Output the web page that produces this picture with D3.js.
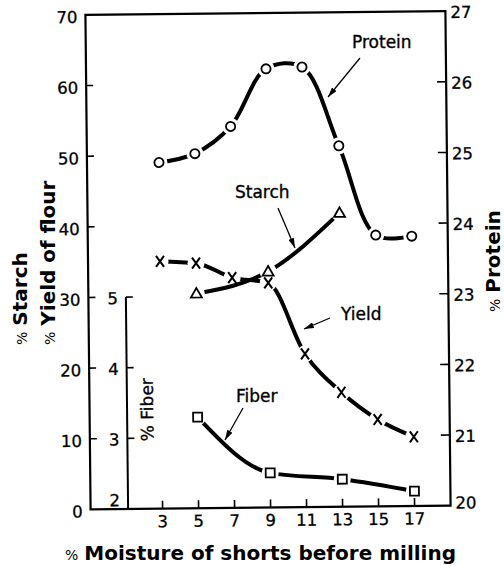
<!DOCTYPE html>
<html>
<head>
<meta charset="utf-8">
<script src="https://cdn.jsdelivr.net/npm/d3@7"></script>
<style>
html, body { margin: 0; padding: 0; background: #fff; }
svg { display: block; font-family: "DejaVu Sans", sans-serif; }
.lab { stroke: #000; stroke-width: 0.3px; }
</style>
</head>
<body>
<svg id="chart" width="504" height="566"></svg>
<script>
'use strict';

// moisture of shorts (x)
var moisture = [3, 5, 7, 9, 11, 13, 15, 17];
// % protein, right axis
var protein = [24.90, 25.02, 25.40, 26.21, 26.23, 25.11, 23.84, 23.82];
// % yield of flour, left axis
var yieldFlour = [35.0, 34.7, 32.6, 31.8, 21.7, 16.2, 12.3, 9.8];
// % starch, left axis
var starchMoisture = [5, 9, 13];
var starch = [30.4, 33.4, 41.6];
// % fiber, inner axis
var fiberMoisture = [5, 9, 13, 17];
var fiber = [3.29, 2.49, 2.39, 2.21];

var leftTicks = [0, 10, 20, 30, 40, 50, 60, 70];
var rightTicks = [20, 21, 22, 23, 24, 25, 26, 27];
var fiberTicks = [2, 3, 4, 5];
var xTicks = [3, 5, 7, 9, 11, 13, 15, 17];

var svg = d3.select('#chart');

var x = d3.scaleLinear().domain([-1, 19]).range([88, 448]);
var yLeft = d3.scaleLinear().domain([0, 70]).range([507.5, 13]);
var yRight = d3.scaleLinear().domain([20, 27]).range([507.5, 13]);
var yFiber = d3.scaleLinear().domain([2, 5]).range([507.5, yLeft(30)]);

var FIBER_X = 125.5;
var TICK_FONT = '16.5px';

// the scan is a little tilted
var g = svg.append('g').attr('transform', 'rotate(-0.6, 270, 260)');
var defs = svg.append('defs');

defs.append('marker')
    .attr('id', 'arrow')
    .attr('markerUnits', 'userSpaceOnUse')
    .attr('markerWidth', 10)
    .attr('markerHeight', 6)
    .attr('refX', 10)
    .attr('refY', 3)
    .attr('orient', 'auto')
    .append('path')
    .attr('d', 'M0,0 L10,3 L0,6 Z')
    .attr('fill', '#000');

/***** frame *****/
var x0 = x.range()[0], x1 = x.range()[1];
var yb = yLeft(0), yt = yLeft(70);

g.append('path')
    .attr('d', 'M' + x0 + ',' + yt + 'L' + x1 + ',' + yt + 'L' + x1 + ',' + yb + 'L' + x0 + ',' + yb + 'Z')
    .attr('fill', 'none')
    .attr('stroke', '#000')
    .attr('stroke-width', 2.2);

// left axis
g.selectAll('.ltick').data(leftTicks.slice(1, -1)).enter()
    .append('line')
    .attr('x1', x0).attr('x2', x0 + 7)
    .attr('y1', function(d) { return yLeft(d); })
    .attr('y2', function(d) { return yLeft(d); })
    .attr('stroke', '#000').attr('stroke-width', 1.6);

g.selectAll('.llab').data(leftTicks).enter()
    .append('text')
    .attr('class', 'lab')
    .attr('x', x0 - 8)
    .attr('y', function(d) { return yLeft(d) + 8; })
    .attr('text-anchor', 'end')
    .style('font-size', TICK_FONT)
    .text(function(d) { return d; });

// right axis
g.selectAll('.rtick').data(rightTicks.slice(1, -1)).enter()
    .append('line')
    .attr('x1', x1).attr('x2', x1 - 9)
    .attr('y1', function(d) { return yRight(d); })
    .attr('y2', function(d) { return yRight(d); })
    .attr('stroke', '#000').attr('stroke-width', 1.6);

g.selectAll('.rlab').data(rightTicks).enter()
    .append('text')
    .attr('class', 'lab')
    .attr('x', x1 + 5)
    .attr('y', function(d) { return yRight(d) + (d === 20 ? 3 : 7); })
    .style('font-size', TICK_FONT)
    .text(function(d) { return d; });

// bottom axis
g.selectAll('.xtick').data(xTicks).enter()
    .append('line')
    .attr('x1', function(d) { return x(d); })
    .attr('x2', function(d) { return x(d); })
    .attr('y1', yb).attr('y2', yb - 8)
    .attr('stroke', '#000').attr('stroke-width', 1.6);

g.selectAll('.xlab').data(xTicks).enter()
    .append('text')
    .attr('class', 'lab')
    .attr('x', function(d) { return x(d); })
    .attr('y', yb + 18.5)
    .attr('text-anchor', 'middle')
    .style('font-size', TICK_FONT)
    .text(function(d) { return d; });

// fiber axis
g.append('line')
    .attr('x1', FIBER_X).attr('x2', FIBER_X)
    .attr('y1', yFiber(2)).attr('y2', yFiber(5))
    .attr('stroke', '#000').attr('stroke-width', 2);

g.selectAll('.ftick').data(fiberTicks.slice(1)).enter()
    .append('line')
    .attr('x1', FIBER_X).attr('x2', FIBER_X + 7)
    .attr('y1', function(d) { return yFiber(d); })
    .attr('y2', function(d) { return yFiber(d); })
    .attr('stroke', '#000').attr('stroke-width', 1.6);

g.selectAll('.flab').data(fiberTicks).enter()
    .append('text')
    .attr('class', 'lab')
    .attr('x', FIBER_X - 8)
    .attr('y', function(d) { return yFiber(d) + (d === 2 ? -3 : 7); })
    .attr('text-anchor', 'end')
    .style('font-size', TICK_FONT)
    .text(function(d) { return d; });

g.append('text')
    .attr('class', 'lab')
    .attr('transform', 'translate(' + (FIBER_X + 26) + ',440) rotate(-90)')
    .style('font-size', '17px')
    .text('% Fiber');

/***** series *****/
var series = [
    { id: 'protein', xs: moisture, ys: protein, scale: yRight, shape: 'circle', curve: d3.curveCatmullRom.alpha(0.5) },
    { id: 'yield', xs: moisture, ys: yieldFlour, scale: yLeft, shape: 'cross', curve: d3.curveMonotoneX },
    { id: 'starch', xs: starchMoisture, ys: starch, scale: yLeft, shape: 'triangle', curve: d3.curveMonotoneX },
    { id: 'fiber', xs: fiberMoisture, ys: fiber, scale: yFiber, shape: 'square', curve: d3.curveMonotoneX }
];

series.forEach(function(s) {
    var pts = s.xs.map(function(m, i) { return [x(m), s.scale(s.ys[i])]; });

    // knock the line out around each marker
    var mask = defs.append('mask')
        .attr('id', 'mask-' + s.id)
        .attr('maskUnits', 'userSpaceOnUse')
        .attr('x', -50).attr('y', -50)
        .attr('width', 650).attr('height', 700);
    mask.append('rect')
        .attr('x', -50).attr('y', -50)
        .attr('width', 650).attr('height', 700)
        .attr('fill', '#fff');
    mask.selectAll('circle').data(pts).enter()
        .append('circle')
        .attr('cx', function(p) { return p[0]; })
        .attr('cy', function(p) { return p[1]; })
        .attr('r', 8.5)
        .attr('fill', '#000');

    var line = d3.line().curve(s.curve);

    g.append('path')
        .attr('d', line(pts))
        .attr('fill', 'none')
        .attr('stroke', '#000')
        .attr('stroke-width', 4)
        .attr('mask', 'url(#mask-' + s.id + ')');

    var marks = g.selectAll('.m-' + s.id).data(pts).enter()
        .append('g')
        .attr('transform', function(p) { return 'translate(' + p[0] + ',' + p[1] + ')'; });

    if (s.shape === 'circle') {
        marks.append('circle').attr('r', 4.6)
            .attr('fill', '#fff').attr('stroke', '#000').attr('stroke-width', 1.8);
    } else if (s.shape === 'cross') {
        marks.append('path').attr('d', 'M-4,-5.5L4,5.5M4,-5.5L-4,5.5')
            .attr('fill', 'none').attr('stroke', '#000').attr('stroke-width', 2);
    } else if (s.shape === 'triangle') {
        marks.append('path').attr('d', 'M0,-5.5L5.5,4L-5.5,4Z')
            .attr('fill', '#fff').attr('stroke', '#000').attr('stroke-width', 1.8);
    } else {
        marks.append('rect').attr('x', -4.5).attr('y', -4.5).attr('width', 9).attr('height', 9)
            .attr('fill', '#fff').attr('stroke', '#000').attr('stroke-width', 1.8);
    }
});

/***** labels and arrows *****/
var notes = [
    { text: 'Protein', tx: 352, ty: 48, from: [360, 58], to: [328, 97] },
    { text: 'Starch', tx: 235, ty: 198, from: [278, 208], to: [295, 248] },
    { text: 'Yield', tx: 341, ty: 320, from: [330, 318], to: [304, 329] },
    { text: 'Fiber', tx: 236, ty: 402, from: [243, 408], to: [225, 440] }
];

notes.forEach(function(n) {
    svg.append('text')
        .attr('x', n.tx).attr('y', n.ty)
        .style('font-size', '17px')
        .style('stroke', '#000')
        .style('stroke-width', 0.35)
        .text(n.text);
    svg.append('line')
        .attr('x1', n.from[0]).attr('y1', n.from[1])
        .attr('x2', n.to[0]).attr('y2', n.to[1])
        .attr('stroke', '#000').attr('stroke-width', 1.3)
        .attr('marker-end', 'url(#arrow)');
});

/***** axis titles *****/
function title(sel, label) {
    sel.append('tspan').style('font-size', '14px').text('%');
    sel.append('tspan').attr('dx', 6).style('font-size', '20px').style('font-weight', 'bold').text(label);
}

title(svg.append('text').attr('transform', 'translate(27,345) rotate(-90)'), 'Starch');
title(svg.append('text').attr('transform', 'translate(55,345) rotate(-90)'), 'Yield of flour');
title(svg.append('text').attr('transform', 'translate(500,312) rotate(-90)'), 'Protein');
title(svg.append('text').attr('x', 65).attr('y', 560), 'Moisture of shorts before milling');
</script>
</body>
</html>
